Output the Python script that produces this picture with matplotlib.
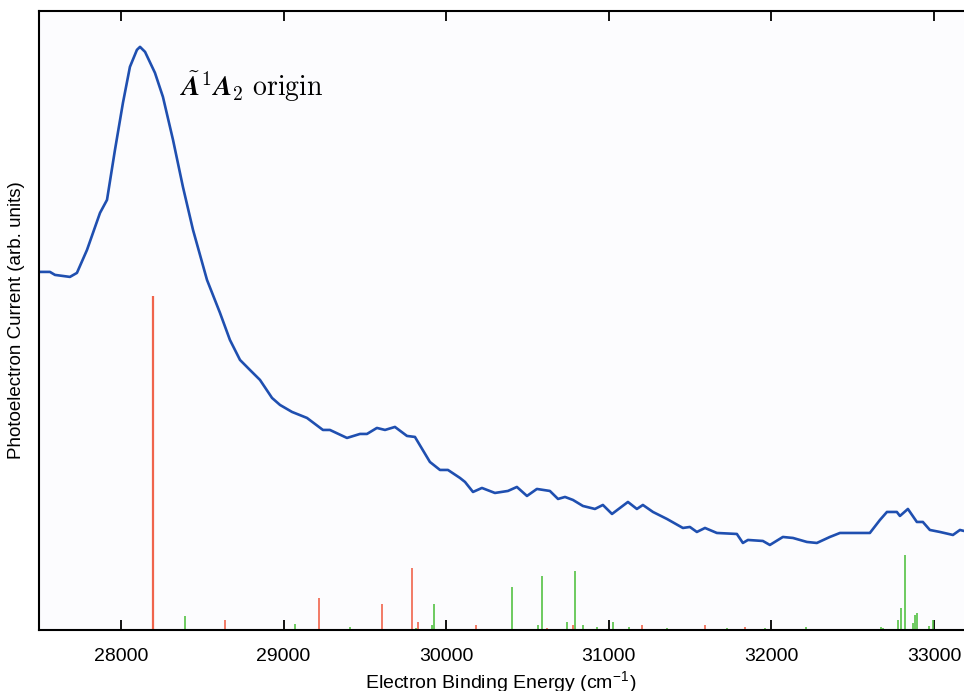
import numpy as np
import matplotlib
matplotlib.use('Agg')
import matplotlib.pyplot as plt

# photoelectron spectrum (arb. units)
energy = [27496, 27563, 27594, 27686, 27729, 27791, 27871, 27914, 27963, 28012,
          28055, 28098, 28117, 28148, 28209, 28258, 28320, 28381, 28443, 28529,
          28609, 28670, 28732, 28793, 28855, 28929, 28978, 29052, 29144, 29193,
          29242, 29285, 29390, 29470, 29513, 29574, 29624, 29685, 29759, 29808,
          29900, 29962, 30011, 30085, 30116, 30165, 30220, 30300, 30380, 30435,
          30497, 30558, 30638, 30688, 30731, 30780, 30841, 30915, 30964, 31020,
          31118, 31173, 31210, 31272, 31358, 31456, 31499, 31542, 31592, 31665,
          31788, 31825, 31856, 31948, 31991, 32071, 32133, 32219, 32280, 32360,
          32422, 32502, 32606, 32668, 32711, 32772, 32791, 32840, 32895, 32932,
          32975, 33037, 33117, 33160, 33185]
signal = [3.58, 3.58, 3.55, 3.53, 3.57, 3.80, 4.17, 4.30, 4.80, 5.27,
          5.63, 5.80, 5.83, 5.78, 5.57, 5.33, 4.90, 4.43, 4.00, 3.50,
          3.17, 2.90, 2.70, 2.60, 2.50, 2.32, 2.25, 2.18, 2.12, 2.06,
          2.00, 2.00, 1.92, 1.96, 1.96, 2.02, 2.00, 2.03, 1.94, 1.93,
          1.68, 1.60, 1.60, 1.52, 1.48, 1.38, 1.42, 1.37, 1.39, 1.43,
          1.34, 1.41, 1.39, 1.31, 1.33, 1.30, 1.24, 1.21, 1.25, 1.16,
          1.28, 1.21, 1.25, 1.18, 1.11, 1.02, 1.03, 0.98, 1.02, 0.97,
          0.96, 0.87, 0.90, 0.89, 0.85, 0.93, 0.92, 0.88, 0.87, 0.93,
          0.97, 0.97, 0.97, 1.10, 1.18, 1.18, 1.14, 1.21, 1.08, 1.08,
          1.00, 0.98, 0.95, 1.00, 0.99]

# simulated stick spectra
red_pos = [28197, 28637, 29218, 29605, 29790, 29827, 30183, 30620, 30780,
           31204, 31592, 31838, 32465]
red_int = [3.34, 0.10, 0.32, 0.26, 0.62, 0.08, 0.05, 0.02, 0.05,
           0.05, 0.05, 0.03, 0.01]
green_pos = [28394, 28900, 29070, 29408, 29815, 29913, 29925, 30405, 30565,
             30590, 30743, 30792, 30841, 30927, 31026, 31124, 31358, 31727,
             31960, 32213, 32563, 32674, 32686, 32779, 32797, 32822, 32871,
             32883, 32895, 32969, 32994]
green_int = [0.14, 0.01, 0.06, 0.03, 0.02, 0.05, 0.26, 0.43, 0.05,
             0.54, 0.08, 0.59, 0.05, 0.03, 0.08, 0.03, 0.02, 0.02,
             0.02, 0.03, 0.01, 0.03, 0.02, 0.10, 0.22, 0.75, 0.07,
             0.15, 0.17, 0.04, 0.10]
xticks = [28000, 29000, 30000, 31000, 32000, 33000]

plt.rcParams['font.family'] = ['Liberation Sans', 'DejaVu Sans']
plt.rcParams['mathtext.fontset'] = 'cm'

fig = plt.figure(figsize=(9.64, 6.91), dpi=100)
ax = fig.add_axes([0.0405, 0.0883, 0.9595, 0.896])
ax.set_facecolor('#fcfcfe')

lw = [1.6 if h > 1 else 1.2 for h in red_int]
ax.vlines(red_pos, 0, red_int, colors='#f0644c', linewidth=lw)
ax.vlines(green_pos, 0, green_int, colors='#55c245', linewidth=1.2)
ax.plot(energy, signal, color='#1f4fb0', linewidth=1.9,
        solid_joinstyle='round', solid_capstyle='round')

ax.text(28360, 5.43, r'$\tilde{\boldsymbol{A}}^{\mathbf{1}}\boldsymbol{A}_{\mathbf{2}}\ \mathrm{origin}$',
        fontsize=20, va='center', ha='left')

ax.set_xlim(27496, 33185)
ax.set_ylim(0, 6.19)
ax.set_xticks(xticks)
ax.set_yticks([])
ax.tick_params(axis='x', direction='in', top=True, length=7, width=1.3,
               labelsize=14, pad=13)
for s in ['left', 'top', 'bottom']:
    ax.spines[s].set_linewidth(1.5)
ax.spines['right'].set_visible(False)

ax.set_xlabel('Electron Binding Energy (cm$^{\\mathregular{-1}}$)', fontsize=14, labelpad=3)
ax.set_ylabel('Photoelectron Current (arb. units)', fontsize=13.5, labelpad=10)

fig.savefig('out.png', dpi=100)
